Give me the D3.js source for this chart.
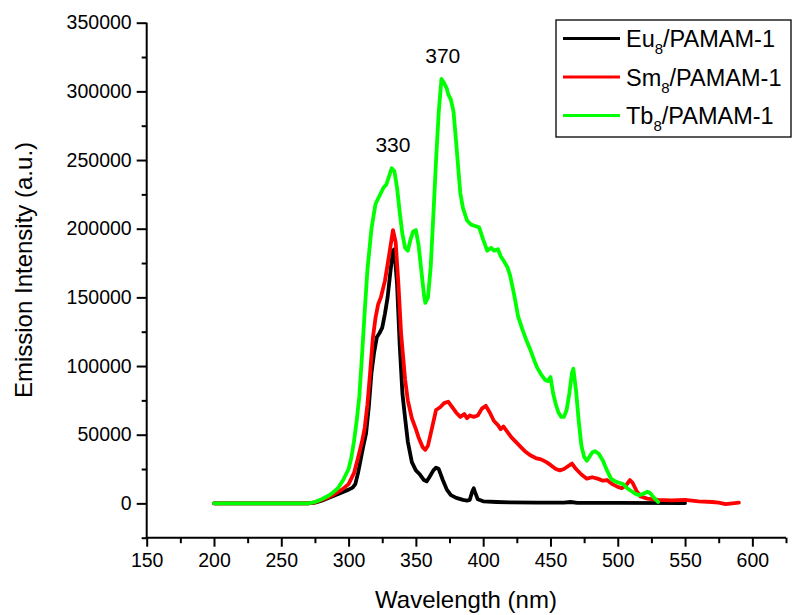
<!DOCTYPE html>
<html>
<head>
<meta charset="utf-8">
<script src="https://cdn.jsdelivr.net/npm/d3@7"></script>
<style>
  html, body { margin: 0; padding: 0; background: #fff; }
  svg { display: block; font-family: "Liberation Sans", Arial, sans-serif; }
</style>
</head>
<body>
<svg id="chart" width="792" height="615"></svg>
<script>
// ---- data ----
const seriesNames = ["Eu", "Sm", "Tb"];
const seriesColors = ["#000000", "#ff0000", "#00ff00"];
const xTicks = [150, 200, 250, 300, 350, 400, 450, 500, 550, 600];
const yTicks = [0, 50000, 100000, 150000, 200000, 250000, 300000, 350000];
const annotations = [{ x: 330, y: 244000, label: "330" }, { x: 370, y: 309000, label: "370" }];

const euData = [[200,0],[270,0],[275,500],[280,2000],[285,4000],[290,6000],[295,8000],[300,10000],[303,11500],[305,14000],[307,22000],[309,32000],[311,42000],[313,51000],[315,70000],[317,95000],[319,110000],[321,121000],[323,124000],[325,128000],[327,138000],[329,150000],[331,168000],[333,184000],[334,185000],[336,160000],[338,115000],[340,80000],[342,62000],[344,45000],[347,30000],[350,24000],[353,21000],[356,17000],[358,16000],[360,19000],[363,24000],[365,26000],[367,25000],[370,17000],[373,10000],[376,6000],[380,4000],[385,2500],[388,2000],[390,2500],[392,9000],[393,11000],[394,8000],[396,3000],[400,1500],[410,1000],[420,700],[440,500],[460,600],[465,1000],[470,400],[500,300],[550,200]];

const smData = [[200,0],[270,0],[275,800],[280,2500],[285,4500],[290,7000],[295,10000],[300,14000],[304,22000],[307,33000],[310,45000],[312,55000],[314,72000],[316,95000],[318,120000],[320,135000],[322,145000],[324,150000],[327,162000],[330,180000],[333,199000],[335,190000],[337,160000],[339,124000],[342,90000],[344,75000],[347,62000],[350,54000],[352,48000],[355,41000],[357,39000],[359,42000],[362,55000],[365,68000],[368,70000],[371,73000],[374,74000],[377,70000],[380,66000],[383,63000],[386,65000],[388,62000],[390,64000],[393,63000],[396,64000],[399,69000],[402,71000],[405,66000],[408,60000],[411,57000],[413,54000],[415,56000],[418,52000],[421,48000],[425,44000],[428,41000],[431,38000],[435,35000],[439,33000],[443,32000],[447,30000],[450,28000],[454,25000],[457,24000],[460,25000],[463,27000],[466,29000],[469,25000],[473,21000],[477,18000],[481,19000],[485,18000],[489,16500],[492,17000],[496,14000],[500,12000],[503,11000],[506,13000],[509,17000],[511,15000],[514,9000],[517,5000],[522,3500],[530,2500],[540,2200],[550,2500],[560,1500],[570,1000],[575,500],[580,-500],[585,0],[590,500]];

const tbData = [[200,0],[270,0],[275,1000],[280,3000],[285,5500],[288,7600],[292,11000],[296,17000],[300,25000],[302,33000],[304,45000],[306,60000],[308,78000],[310,108000],[312,140000],[314,170000],[317,200000],[320,218000],[322,222000],[324,226000],[326,230000],[328,232000],[330,238000],[332,244000],[334,242000],[336,230000],[338,212000],[340,196000],[342,186000],[344,184000],[346,192000],[348,198000],[350,199000],[352,188000],[354,170000],[356,152000],[357,146000],[359,150000],[361,172000],[363,210000],[365,250000],[367,285000],[369,309000],[371,306000],[373,302000],[374,298000],[376,294000],[378,285000],[380,262000],[381,250000],[383,226000],[385,215000],[388,206000],[391,203000],[394,202000],[397,201000],[400,192000],[403,184000],[406,186000],[408,184000],[411,185000],[413,180000],[415,177000],[418,172000],[420,166000],[423,152000],[426,136000],[429,127000],[432,119000],[435,112000],[438,104000],[440,99000],[443,94000],[446,90000],[448,89000],[450,92000],[452,80000],[454,72000],[456,66000],[458,63000],[460,63000],[462,68000],[464,80000],[466,95000],[467,98000],[469,82000],[471,60000],[473,42000],[475,34000],[477,31000],[479,34000],[481,37000],[483,38000],[486,36000],[489,31000],[492,24000],[495,18000],[498,16000],[501,15000],[504,14000],[507,11000],[510,9000],[513,7000],[516,6000],[519,7000],[522,8500],[524,7500],[527,4000],[530,1000]];

const allData = [euData, smData, tbData];

// ---- layout ----
const svg = d3.select("#chart");
const x = d3.scaleLinear().domain([150, 625]).range([146.7, 786]);
const y = d3.scaleLinear().domain([-25000, 350000]).range([537.7, 22.7]);
const tickFont = 19.5;

// axes
const yAxis = d3.axisLeft(y).tickValues(yTicks).tickSize(10).tickPadding(5).tickFormat(d3.format("d"));
const yMinor = d3.axisLeft(y).tickValues(d3.range(-25000, 350001, 25000).filter(v => !yTicks.includes(v))).tickSize(5).tickFormat("");
const xAxis = d3.axisBottom(x).tickValues(xTicks).tickSize(9).tickPadding(6).tickFormat(d3.format("d"));
const xMinor = d3.axisBottom(x).tickValues(d3.range(175, 626, 50)).tickSize(5.5).tickFormat("");

function styleAxis(g) {
  g.select(".domain").attr("stroke", "#000").attr("stroke-width", 2);
  g.selectAll(".tick line").attr("stroke", "#000").attr("stroke-width", 2);
  g.selectAll(".tick text").attr("fill", "#000").attr("font-size", tickFont).attr("font-family", "Liberation Sans, Arial, sans-serif");
}

svg.append("g").attr("transform", `translate(${x(150)},0)`).call(yMinor).call(styleAxis).select(".domain").remove();
svg.append("g").attr("transform", `translate(0,${y(-25000)})`).call(xMinor).call(styleAxis).select(".domain").remove();
const gy = svg.append("g").attr("transform", `translate(${x(150)},0)`).call(yAxis).call(styleAxis);
gy.select(".domain").attr("d", `M0,${y(350000)}V${y(-25000)}`);
const gx = svg.append("g").attr("transform", `translate(0,${y(-25000)})`).call(xAxis).call(styleAxis);
gx.select(".domain").attr("d", `M${x(150)},0H${x(625)}`);

// curves
const line = d3.line().x(d => x(d[0])).y(d => y(d[1])).curve(d3.curveLinear);
allData.forEach((data, i) => {
  svg.append("path")
    .datum(data)
    .attr("fill", "none")
    .attr("stroke", seriesColors[i])
    .attr("stroke-width", 3.8)
    .attr("stroke-linejoin", "round")
    .attr("stroke-linecap", "round")
    .attr("d", line);
});

// annotations
svg.selectAll(".ann").data(annotations).enter().append("text")
  .attr("class", "ann")
  .attr("x", d => x(d.x) + (d.label === "330" ? 4 : 0))
  .attr("y", d => y(d.y) - 16)
  .attr("text-anchor", "middle")
  .attr("font-size", 21)
  .attr("fill", "#000")
  .text(d => d.label);

// axis titles
svg.append("text")
  .attr("x", 466).attr("y", 608)
  .attr("text-anchor", "middle")
  .attr("font-size", 24)
  .attr("fill", "#000")
  .text("Wavelength (nm)");

svg.append("text")
  .attr("transform", "translate(31.5,270) rotate(-90)")
  .attr("text-anchor", "middle")
  .attr("font-size", 24)
  .attr("fill", "#000")
  .text("Emission Intensity (a.u.)");

// legend
const lg = svg.append("g");
lg.append("rect").attr("x", 556).attr("y", 20).attr("width", 235).attr("height", 117)
  .attr("fill", "#fff").attr("stroke", "#000").attr("stroke-width", 1.3);
seriesNames.forEach((name, i) => {
  const ly = 38.5 + i * 38.5;
  lg.append("line").attr("x1", 563).attr("x2", 620).attr("y1", ly).attr("y2", ly)
    .attr("stroke", seriesColors[i]).attr("stroke-width", 3.2);
  const t = lg.append("text").attr("x", 626).attr("y", ly + 8.5).attr("font-size", 23.5).attr("fill", "#000");
  t.append("tspan").text(name);
  t.append("tspan").attr("font-size", 15).attr("dy", 7).text("8");
  t.append("tspan").attr("dy", -7).text("/PAMAM-1");
});
</script>
</body>
</html>
